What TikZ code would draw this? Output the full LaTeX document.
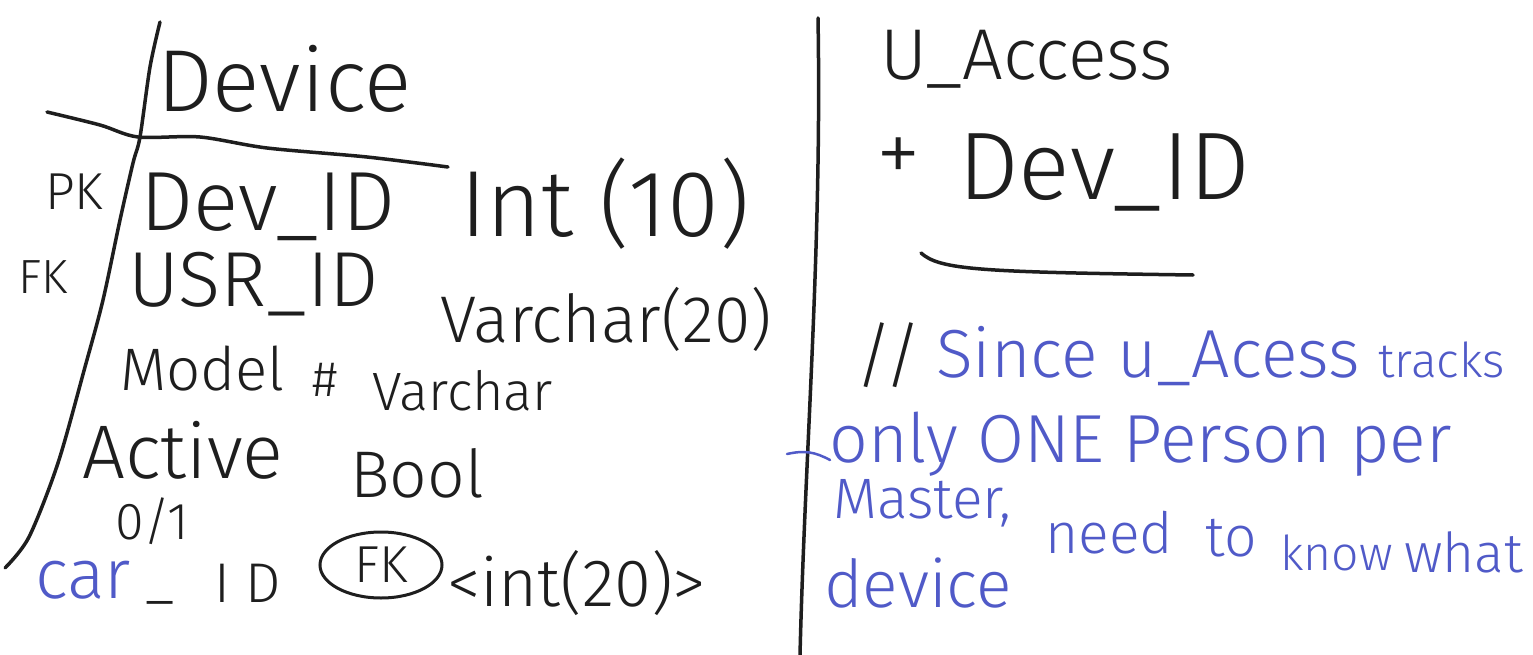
\documentclass[tikz,border=0pt]{standalone}
\usepackage{fontspec}
\IfFontExistsTF{Fira Sans Light}{\setmainfont{Fira Sans Light}}{\setmainfont{Liberation Sans}}
\usetikzlibrary{shapes.geometric}
\definecolor{inkc}{RGB}{30,30,30}
\definecolor{bluec}{RGB}{80,90,200}
\newcommand\fsz[1]{\fontsize{#1}{#1}\selectfont}
\tikzset{
  txt/.style={anchor=base west, inner sep=0pt, text=inkc},
  btxt/.style={anchor=base west, inner sep=0pt, text=bluec},
  pen/.style={draw=inkc, line width=3.5pt, line cap=round, line join=round},
  bpen/.style={draw=bluec, line width=2.5pt, line cap=round, line join=round},
}
\begin{document}
\begin{tikzpicture}[x=1pt,y=-1pt]
\useasboundingbox[fill=white] (0,0) rectangle (1533,655);
% ---------- Device table ----------
\draw[pen] plot[smooth] coordinates {(160,22) (150,67) (140,137) (133,163) (120,220) (103,300) (85,367) (58,463) (29,537) (5,568)};
\draw[pen] plot[smooth] coordinates {(47,112) (100,125) (138,137) (200,137) (267,148) (367,157) (448,167)};
\node[txt, font=\fsz{88}] (title) at (157,112) {Device};
\node[txt, font=\fsz{52}] (pk) at (45,210) {PK};
\node[txt, font=\fsz{84}] (devid) at (140,230) {Dev\_ID};
\node[txt, font=\fsz{94}] (int10) at (460,236) {Int (10)};
\node[txt, font=\fsz{48}] (fkl) at (18,293) {FK};
\node[txt, font=\fsz{78}] (usrid) at (128,306) {USR\_ID};
\node[txt, font=\fsz{66}] (varchar) at (440,342) {Varchar(20)};
\node[txt, font=\fsz{60}] (model) at (120,390) {Model};
\node[txt, font=\fsz{50}] (hash) at (312,396) {\#};
\node[txt, font=\fsz{54}] (mvarchar) at (372,410) {Varchar};
\node[txt, font=\fsz{76}] (active) at (82,478) {Active};
\node[txt, font=\fsz{66}] (bool) at (350,497) {Bool};
\node[txt, font=\fsz{52}] (zeroone) at (115,539) {0/1};
\node[btxt, font=\fsz{70}] (car) at (35,598) {car};
\node[txt, font=\fsz{56}] (id) at (145,602) {\raisebox{5pt}{\_}\hspace{40pt}I D};
\node[draw=inkc, line width=3pt, ellipse, minimum width=122pt, minimum height=66pt, inner sep=0pt, text=inkc, font=\fsz{52}] (fkc) at (381,565) {FK};
\node[txt, font=\fsz{67}] (intang) at (447,606) {<int(20)>};
% ---------- divider ----------
\draw[pen] (818,18) .. controls (822,250) and (805,450) .. (800,655);
% ---------- U_Access ----------
\node[txt, font=\fsz{72}] (uacc) at (880,80) {U\_Access};
\node[txt, font=\fsz{90}] (plus) at (876,184) {+};
\node[txt, font=\fsz{96}] (devid2) at (958,200) {Dev\_ID};
\coordinate (ul1) at (921,253);
\coordinate (ul2) at (1193,275);
\draw[pen] (ul1) .. controls (940,270) and (980,272) .. (ul2);
% ---------- note ----------
\node[txt, font=\fsz{72}] (slashes) at (855,380) {//};
\node[btxt, font=\fsz{68}] (since) at (936,377) {Since u\_Acess {\fsz{48}tracks}};
\node[btxt, font=\fsz{68}] (only) at (829,462) {only ONE Person per};
\node[btxt, font=\fsz{57}] (master) at (833,518) {Master,};
\node[btxt, font=\fsz{57}] (need) at (1045,553) {need};
\node[btxt, font=\fsz{57}] (to) at (1205,556) {to};
\node[btxt, font=\fsz{48}] (know) at (1280,570) {know};
\node[btxt, font=\fsz{55}] (what) at (1404,572) {what};
\node[btxt, font=\fsz{66}] (devicew) at (824,607) {device};
\coordinate (d1) at (787,454);
\coordinate (d2) at (830,460);
\draw[bpen] (d1) .. controls (805,450) and (815,452) .. (d2);
\end{tikzpicture}
\end{document}
